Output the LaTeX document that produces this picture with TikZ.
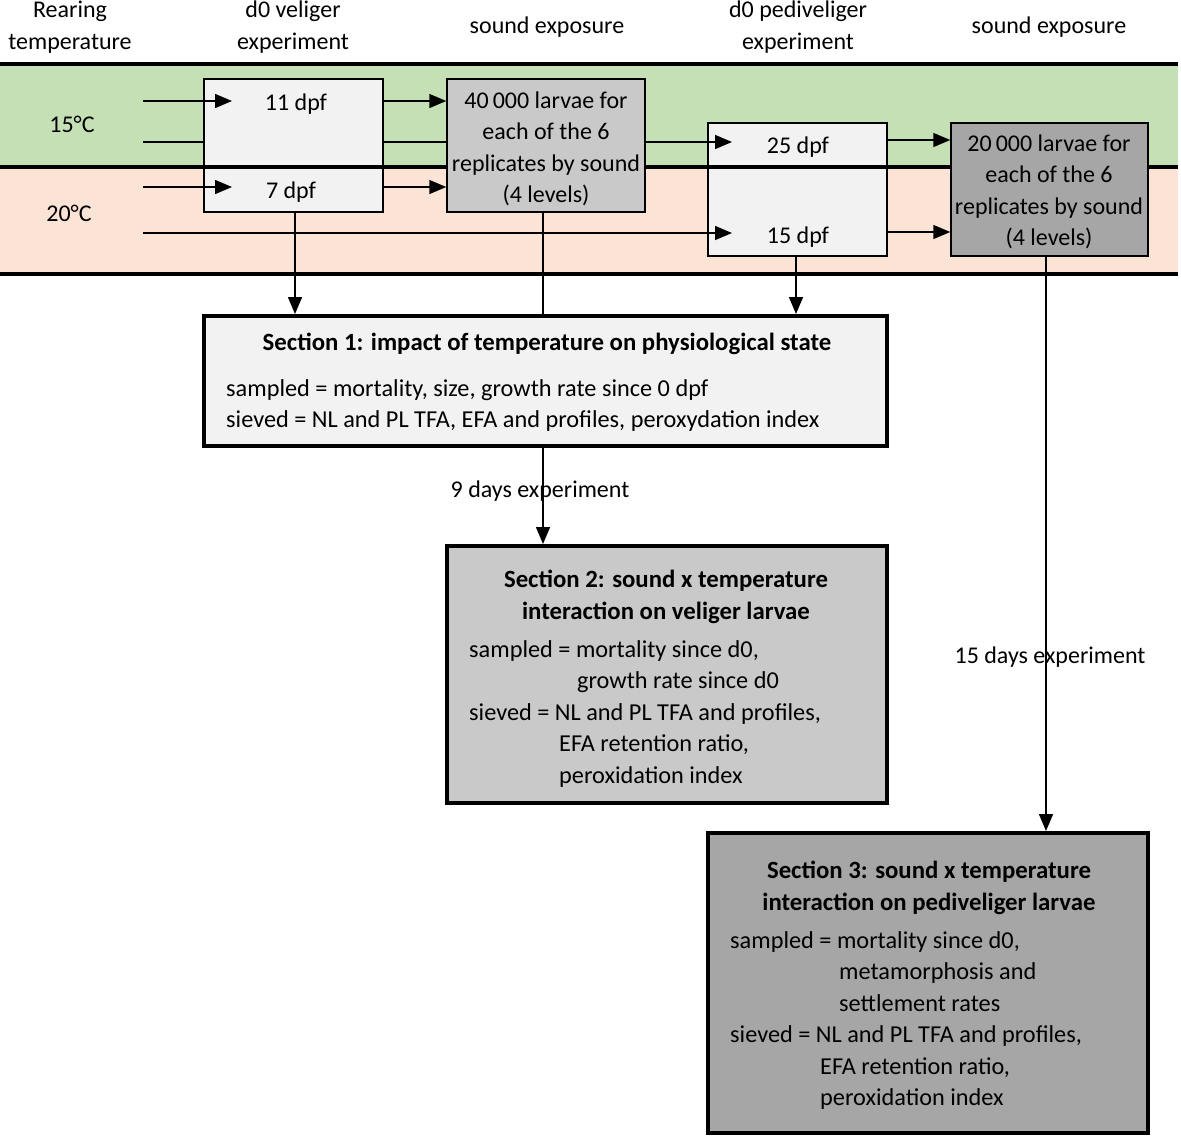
\documentclass[tikz,border=0pt]{standalone}
\usepackage{fontspec}
\setmainfont{Carlito}
\usetikzlibrary{arrows.meta}
\definecolor{bandgreen}{HTML}{C5E0B4}
\definecolor{bandpink}{HTML}{FBE3D6}
\definecolor{boxlight}{HTML}{F2F2F2}
\definecolor{boxmid}{HTML}{C9C9C9}
\definecolor{boxdark}{HTML}{A6A6A6}
\pgfdeclarelayer{bands}
\pgfdeclarelayer{lines}
\pgfsetlayers{bands,lines,main}
\begin{document}
\begin{tikzpicture}[x=1pt,y=-1pt,
  every node/.style={font=\fontsize{24}{31.5}\selectfont},
  thinbox/.style={draw, line width=1.5pt, inner sep=0pt},
  secbox/.style={draw, line width=4pt, inner sep=0pt},
  lbl/.style={inner sep=0pt, align=center},
  ttl/.style={inner sep=0pt, align=center, font=\fontsize{24.8}{32}\selectfont\bfseries},
  body/.style={inner sep=0pt, align=left, anchor=north west, font=\fontsize{24.3}{31.5}\selectfont},
  arr/.style={line width=1.5pt, -{Triangle[length=17pt,width=14pt]}},
  ln/.style={line width=1.5pt},
  sep/.style={line width=4pt}]
\useasboundingbox (0,0) rectangle (1181,1136);

% bands
\begin{pgfonlayer}{bands}
\fill[bandgreen] (0,64) rectangle (1178,167);
\fill[bandpink] (0,167) rectangle (1178,274);
\end{pgfonlayer}

% header labels
\node[lbl] (hrear) at (70,27) {Rearing\\temperature};
\node[lbl] (hvel) at (293,27) {d0 veliger\\experiment};
\node[lbl] (hsnd1) at (547,27) {sound exposure};
\node[lbl] (hped) at (798,27) {d0 pediveliger\\experiment};
\node[lbl] (hsnd2) at (1049,27) {sound exposure};
\node[lbl] (t15) at (72,124) {15°C};
\node[lbl] (t20) at (69,213) {20°C};

% light boxes
\node[thinbox, fill=boxlight, minimum width=179pt, minimum height=133pt] (v0) at (293.5,145.5) {};
\node[thinbox, fill=boxlight, minimum width=179pt, minimum height=133pt] (p0) at (797.5,189.5) {};
\node[lbl] (d11) at (296,104) {11 dpf};
\node[lbl] (d7) at (291,192) {7 dpf};
\node[lbl] (d25) at (798,147) {25 dpf};
\node[lbl] (d15) at (798,237) {15 dpf};

% section boxes
\node[secbox, fill=boxlight, minimum width=683pt, minimum height=130pt] (s1) at (545.5,381) {};
\node[secbox, fill=boxmid, minimum width=440pt, minimum height=257pt] (s2) at (667,674.5) {};
\node[secbox, fill=boxdark, minimum width=440pt, minimum height=300pt] (s3) at (928,983) {};

% separator lines
\draw[sep] (0,64) -- (1178,64);
\draw[sep] (0,167) -- (1178,167);
\draw[sep] (0,274) -- (1178,274);

% gray boxes
\node[thinbox, fill=boxmid, minimum width=198pt, minimum height=133pt] (e40) at (546,145.5) {};
\node[lbl] (e40t) at (546,149) {40\,000 larvae for\\each of the 6\\replicates by sound\\(4 levels)};
\node[thinbox, fill=boxdark, minimum width=197pt, minimum height=133pt] (e20) at (1049.5,189.5) {};
\node[lbl] (e20t) at (1049,192) {20\,000 larvae for\\each of the 6\\replicates by sound\\(4 levels)};

% section texts
\node[ttl] (s1t) at (547,344) {Section 1: impact of temperature on physiological state};
\node[body] (s1b) at (226,379) {sampled = mortality, size, growth rate since 0 dpf\\sieved = NL and PL TFA, EFA and profiles, peroxydation index};
\node[ttl] (s2t) at (666,597) {Section 2: sound x temperature\\interaction on veliger larvae};
\node[body] (s2b) at (469,640) {sampled = mortality since d0,\\\hspace*{108pt}growth rate since d0\\sieved = NL and PL TFA and profiles,\\\hspace*{90pt}EFA retention ratio,\\\hspace*{90pt}peroxidation index};
\node[ttl] (s3t) at (929,888) {Section 3: sound x temperature\\interaction on pediveliger larvae};
\node[body] (s3b) at (730,931) {sampled = mortality since d0,\\\hspace*{109pt}metamorphosis and\\\hspace*{109pt}settlement rates\\sieved = NL and PL TFA and profiles,\\\hspace*{90pt}EFA retention ratio,\\\hspace*{90pt}peroxidation index};

\node[lbl] (l9) at (540,491) {9 days experiment};
\node[lbl] (l15) at (1050,657) {15 days experiment};

% free ends
\coordinate (a15) at (143,101);
\coordinate (b15) at (143,142);
\coordinate (a20) at (143,187);
\coordinate (b20) at (143,233);
\coordinate (in11) at (232,101);
\coordinate (in7) at (232,187);
\coordinate (in25) at (732,142);
\coordinate (in15) at (732,233);

% connectors behind boxes
\begin{pgfonlayer}{lines}
\draw[ln] (b15) -- (p0.west |- b15);
\draw[arr] ([xshift=-3pt]e40.south) -- ([xshift=-3pt]e40.south |- s2.north);
\end{pgfonlayer}

% connectors
\draw[arr] (p0.west |- b15) -- (in25);
\draw[arr] (b20) -- (in15);
\draw[arr] (a15) -- (in11);
\draw[arr] (a20) -- (in7);
\draw[arr] (v0.east |- a15) -- (e40.west |- a15);
\draw[arr] (v0.east |- a20) -- (e40.west |- a20);
\draw[arr] (p0.east |- 0,140) -- (e20.west |- 0,140);
\draw[arr] (p0.east |- 0,232) -- (e20.west |- 0,232);
\draw[arr] ([xshift=1.5pt]v0.south) -- ([xshift=1.5pt]v0.south |- s1.north);
\draw[arr] ([xshift=-1.5pt]p0.south) -- ([xshift=-1.5pt]p0.south |- s1.north);
\draw[arr] ([xshift=-3.5pt]e20.south) -- ([xshift=-3.5pt]e20.south |- s3.north);
\draw[ln] ([xshift=-3pt]e40.south |- l9.north) -- ([xshift=-3pt]e40.south |- l9.south);
\end{tikzpicture}
\end{document}
